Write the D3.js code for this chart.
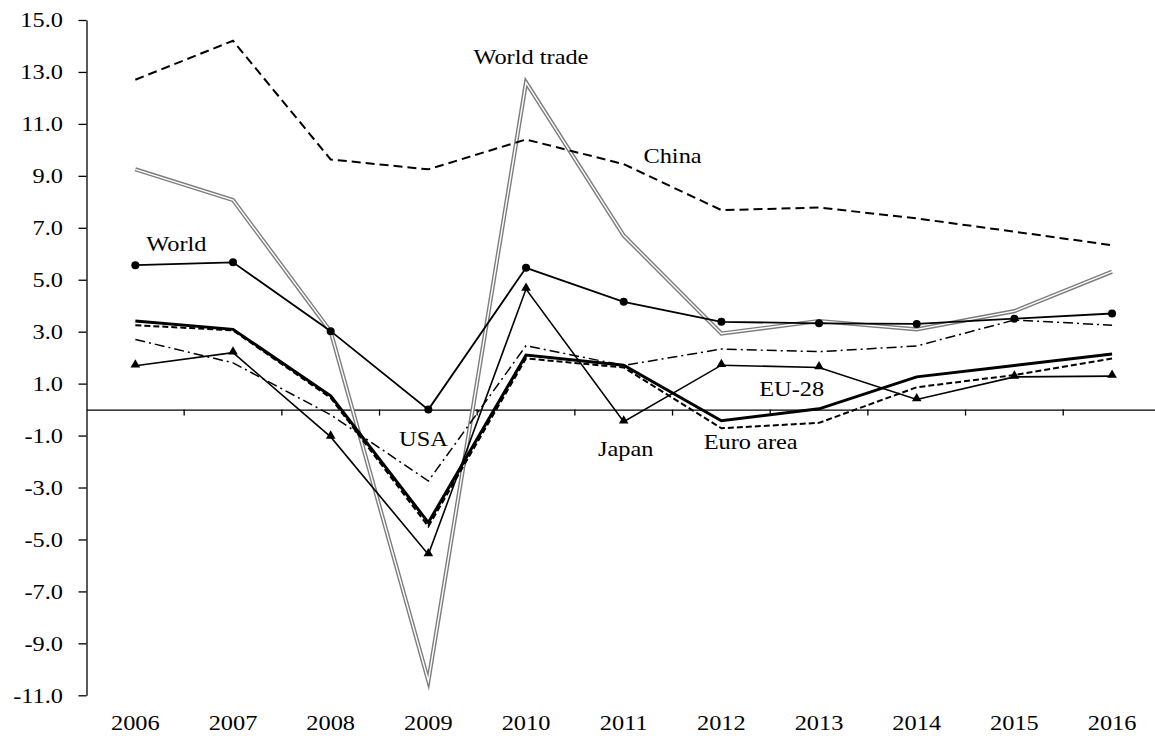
<!DOCTYPE html>
<html>
<head>
<meta charset="utf-8">
<script src="https://cdn.jsdelivr.net/npm/d3@7"></script>
<style>
  body { margin: 0; background: #fff; }
  text { font-family: "Liberation Serif", "Times New Roman", serif; fill: #000; }
</style>
</head>
<body>
<div id="chart"></div>
<script>
const years = ["2006", "2007", "2008", "2009", "2010", "2011", "2012", "2013", "2014", "2015", "2016"];
const yTicks = [-11, -9, -7, -5, -3, -1, 1, 3, 5, 7, 9, 11, 13, 15];

const worldTrade = [9.25, 8.07, 3.0, -10.45, 12.6, 6.7, 2.93, 3.41, 3.09, 3.79, 5.31];
const china = [12.7, 14.2, 9.63, 9.25, 10.4, 9.45, 7.68, 7.78, 7.36, 6.85, 6.33];
const world = [5.56, 5.67, 3.02, 0.0, 5.46, 4.15, 3.38, 3.32, 3.3, 3.5, 3.7];
const usa = [2.7, 1.8, -0.2, -2.75, 2.46, 1.7, 2.33, 2.23, 2.45, 3.45, 3.25];
const eu28 = [3.41, 3.09, 0.53, -4.35, 2.1, 1.71, -0.43, 0.03, 1.26, 1.7, 2.14];
const euroArea = [3.25, 3.05, 0.45, -4.5, 1.97, 1.62, -0.72, -0.51, 0.86, 1.33, 1.97];
const japan = [1.69, 2.19, -1.05, -5.58, 4.64, -0.47, 1.71, 1.62, 0.39, 1.26, 1.29];

// annotation texts, anchored to a year and a value
const labels = [
  { text: "World trade", year: "2010", dx: 0.05, value: 13.3 },
  { text: "China", year: "2011", dx: 0.5, value: 9.5 },
  { text: "World", year: "2006", dx: 0.42, value: 6.1 },
  { text: "USA", year: "2009", dx: -0.05, value: -1.4 },
  { text: "Japan", year: "2011", dx: 0.02, value: -1.77 },
  { text: "Euro area", year: "2012", dx: 0.3, value: -1.5 },
  { text: "EU-28", year: "2013", dx: -0.28, value: 0.53 },
];

const width = 1155;
const height = 736;
const stretch = 1.16;

const x = d3.scaleBand().domain(years).range([86.5, 1160.9]).padding(0);
const y = d3.scaleLinear().domain([-11, 15]).range([695.3, 20]);
const cx = (d) => x(d) + x.bandwidth() / 2;

const svg = d3
  .select("#chart")
  .append("svg")
  .attr("width", width)
  .attr("height", height);

// y axis
const yAxis = svg
  .append("g")
  .attr("transform", `translate(${x.range()[0]}, 0)`)
  .call(
    d3
      .axisLeft(y)
      .tickValues(yTicks)
      .tickSize(8)
      .tickSizeOuter(0)
      .tickFormat((d) => d.toFixed(1))
  );
yAxis.select(".domain").attr("stroke", "#000").attr("stroke-width", 1.3);
yAxis.selectAll(".tick line").attr("stroke", "#000").attr("stroke-width", 1.3);
yAxis
  .selectAll(".tick text")
  .attr("x", -23.5 / stretch)
  .attr("transform", `scale(${stretch},1)`)
  .style("font-size", "21px")
  .style("font-family", "Liberation Serif");

// zero axis with ticks on the category boundaries
const xAxis = svg
  .append("g")
  .attr("transform", `translate(0, ${y(0)})`)
  .call(d3.axisBottom(x).tickSize(6).tickSizeOuter(0).tickFormat(""));
xAxis.select(".domain").attr("stroke", "#000").attr("stroke-width", 1.3);
xAxis.selectAll(".tick").attr("transform", (d) => `translate(${x(d)}, 0)`);
xAxis
  .selectAll(".tick line")
  .attr("stroke", "#000")
  .attr("stroke-width", 1.3)
  .style("display", (d) => (d === years[0] ? "none" : null));

// category labels at the bottom
svg
  .append("g")
  .selectAll("text")
  .data(years)
  .join("text")
  .attr("transform", (d) => `translate(${cx(d)}, 730) scale(${stretch},1)`)
  .attr("text-anchor", "middle")
  .style("font-size", "21px")
  .text((d) => d);

const line = d3
  .line()
  .x((d, i) => cx(years[i]))
  .y((d) => y(d));

// world trade: double gray line
svg
  .append("path")
  .attr("d", line(worldTrade))
  .attr("fill", "none")
  .attr("stroke", "#7d7d7d")
  .attr("stroke-width", 4.2)
  .attr("stroke-linejoin", "miter")
  .attr("stroke-miterlimit", 10);
svg
  .append("path")
  .attr("d", line(worldTrade))
  .attr("fill", "none")
  .attr("stroke", "#fff")
  .attr("stroke-width", 1.4)
  .attr("stroke-linejoin", "miter")
  .attr("stroke-miterlimit", 10);

// China
svg
  .append("path")
  .attr("d", line(china))
  .attr("fill", "none")
  .attr("stroke", "#000")
  .attr("stroke-width", 2)
  .attr("stroke-dasharray", "9,5");

// USA
svg
  .append("path")
  .attr("d", line(usa))
  .attr("fill", "none")
  .attr("stroke", "#000")
  .attr("stroke-width", 1.5)
  .attr("stroke-dasharray", "10,4,2,4");

// Euro area
svg
  .append("path")
  .attr("d", line(euroArea))
  .attr("fill", "none")
  .attr("stroke", "#000")
  .attr("stroke-width", 2)
  .attr("stroke-dasharray", "6,3");

// EU-28
svg
  .append("path")
  .attr("d", line(eu28))
  .attr("fill", "none")
  .attr("stroke", "#000")
  .attr("stroke-width", 3);

// Japan
svg
  .append("path")
  .attr("d", line(japan))
  .attr("fill", "none")
  .attr("stroke", "#000")
  .attr("stroke-width", 1.6);
svg
  .append("g")
  .selectAll("path")
  .data(japan)
  .join("path")
  .attr("d", d3.symbol(d3.symbolTriangle, 40))
  .attr("transform", (d, i) => `translate(${cx(years[i])}, ${y(d) - 1})`)
  .attr("fill", "#000");

// World
svg
  .append("path")
  .attr("d", line(world))
  .attr("fill", "none")
  .attr("stroke", "#000")
  .attr("stroke-width", 1.8);
svg
  .append("g")
  .selectAll("circle")
  .data(world)
  .join("circle")
  .attr("cx", (d, i) => cx(years[i]))
  .attr("cy", (d) => y(d))
  .attr("r", 4)
  .attr("fill", "#000");

// annotations
svg
  .append("g")
  .selectAll("text")
  .data(labels)
  .join("text")
  .attr(
    "transform",
    (d) =>
      `translate(${cx(d.year) + d.dx * x.step()}, ${y(d.value)}) scale(${stretch},1)`
  )
  .attr("text-anchor", "middle")
  .style("font-size", "21px")
  .text((d) => d.text);
</script>
</body>
</html>
